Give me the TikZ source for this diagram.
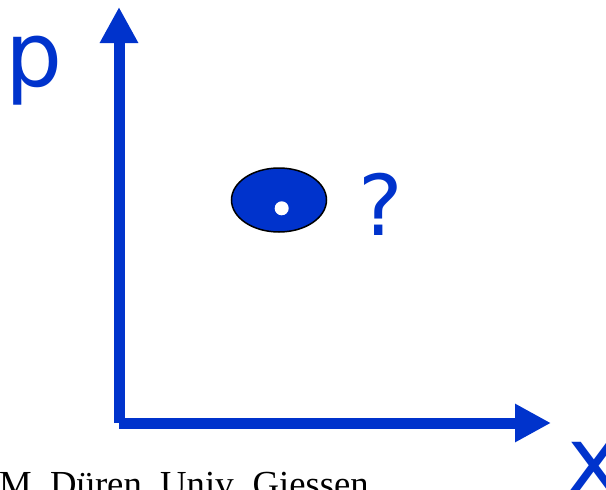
\documentclass[tikz,border=0pt]{standalone}
\usepackage{fontspec}
\setmainfont{Liberation Serif}
\newfontfamily\lblfont{DejaVu Sans}
\usetikzlibrary{arrows.meta,shapes.geometric}
\definecolor{axisblue}{RGB}{0,51,204}
\begin{document}
\begin{tikzpicture}[x=1pt,y=1pt,
  axis/.style={draw=axisblue,line width=11pt,line cap=butt,-{Triangle[length=36pt,width=36pt]}},
  lbl/.style={text=axisblue,inner sep=0pt,font=\lblfont\fontsize{90}{90}\selectfont},
  credit/.style={inner sep=0pt,font=\fontsize{36.7}{40}\selectfont}]
\useasboundingbox (0,-490) rectangle (606,0);
\coordinate (o) at (119,-423);
\coordinate (ytip) at (119,-7);
\coordinate (xtip) at (551,-423);
\draw[axis] (o) -- (ytip);
\draw[axis] (o) -- (xtip);
\node[ellipse,draw=black,line width=1.5pt,fill=axisblue,minimum width=95pt,minimum height=64pt,inner sep=0pt] (blob) at (279,-200) {};
\node[circle,fill=white,minimum size=14pt,inner sep=0pt] (dot) at (281.7,-208.3) {};
\node[lbl,font=\lblfont\fontsize{84}{84}\selectfont] (q) at (380.3,-203.9) {?};
\node[lbl] (p) at (34,-71) {p};
\node[lbl,anchor=north west] (xl) at (567,-442) {x};
\node[credit,anchor=base west] (cr) at (-1,-496) {M. Düren, Univ. Giessen};
\end{tikzpicture}
\end{document}
